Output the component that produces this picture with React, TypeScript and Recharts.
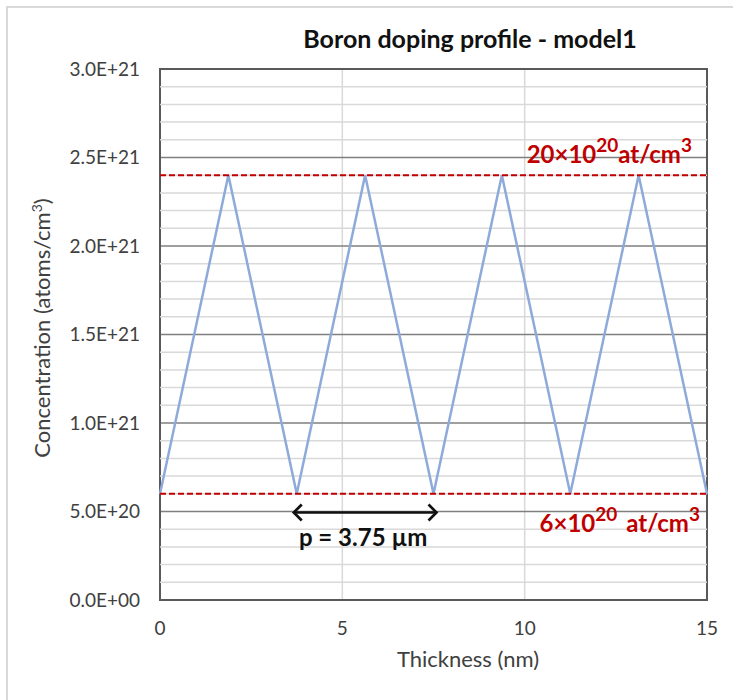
import { CartesianGrid, Line, LineChart, ReferenceArea, ReferenceLine, XAxis, YAxis } from "recharts";

const thickness = [0, 1.875, 3.75, 5.625, 7.5, 9.375, 11.25, 13.125, 15];
const concentration = [6e20, 2.4e21, 6e20, 2.4e21, 6e20, 2.4e21, 6e20, 2.4e21, 6e20];
const xTicks = [0, 5, 10, 15];
const yTicks = [0, 5e20, 1e21, 1.5e21, 2e21, 2.5e21, 3e21];
const minorYTicks = [
  1e20, 2e20, 3e20, 4e20, 6e20, 7e20, 8e20, 9e20, 1.1e21, 1.2e21, 1.3e21, 1.4e21, 1.6e21, 1.7e21, 1.8e21,
  1.9e21, 2.1e21, 2.2e21, 2.3e21, 2.4e21, 2.6e21, 2.7e21, 2.8e21, 2.9e21
];
const upperLimit = 2.4e21;
const lowerLimit = 6e20;
const periodStart = 3.75;
const periodEnd = 7.5;
const periodLevel = 5e20;

const data = thickness.map((x, i) => ({ x, c: concentration[i] }));

const FONT = "Lato, 'Open Sans', sans-serif";
const RED = "#c00000";
const TEXT = "#404040";

function sci(v: number) {
  const [m, e] = v.toExponential(1).split("e");
  const n = Number(e);
  return `${m}E${n < 0 ? "-" : "+"}${String(Math.abs(n)).padStart(2, "0")}`;
}

function LimitLabel({ viewBox, lead, gap, dx, dy }: any) {
  const { x, y, width } = viewBox;
  return (
    <text x={x + width + dx} y={y + dy} textAnchor="end" fill={RED} fontSize={24} fontWeight={700} fontFamily={FONT}>
      <tspan>{lead}</tspan>
      <tspan dy={-11} fontSize={19}>20</tspan>
      <tspan dy={11} dx={gap}>at/cm</tspan>
      <tspan dy={-11} fontSize={19}>3</tspan>
    </text>
  );
}

function PeriodArrow(props: any) {
  const { x1, y1, x2, y2 } = props;
  const h = 8;
  const l = x1 - 3;
  const r = x2 + 3;
  const y = y1 + 1;
  return (
    <g>
      <line x1={l} y1={y} x2={r} y2={y2 + 1} stroke="#111" strokeWidth={2.7} />
      <polyline points={`${l + h},${y - h} ${l},${y} ${l + h},${y + h}`} fill="none" stroke="#111" strokeWidth={2.7} />
      <polyline points={`${r - h},${y - h} ${r},${y} ${r - h},${y + h}`} fill="none" stroke="#111" strokeWidth={2.7} />
      <text x={(x1 + x2) / 2 - 2} y={y1 + 34} textAnchor="middle" fill="#111" fontSize={24} fontWeight={700} fontFamily={FONT}>
        p = 3.75 µm
      </text>
    </g>
  );
}

export default function App() {
  return (
    <div style={{ position: "absolute", left: 0, top: 0, width: 733, height: 700, overflow: "hidden", background: "#fff", fontFamily: FONT }}>
      <div style={{ position: "absolute", left: 6, top: 6, width: 760, height: 720, border: "2px solid #d9d9d9" }} />
      <div style={{ position: "absolute", left: 0, top: 0 }}>
        <LineChart width={733} height={700} data={data} margin={{ top: 69, right: 26, bottom: 60, left: 70 }}>
          <CartesianGrid horizontal={false} stroke="#d9d9d9" strokeWidth={1.5} />
          {minorYTicks.map((v) => (
            <ReferenceLine key={v} y={v} stroke="#d9d9d9" strokeWidth={1.5} />
          ))}
          <CartesianGrid vertical={false} stroke="#7f7f7f" strokeWidth={1.5} />
          <XAxis
            type="number"
            dataKey="x"
            domain={[0, 15]}
            ticks={xTicks}
            height={40}
            axisLine={false}
            tickLine={false}
            tickSize={0}
            tickMargin={22}
            tick={{ fill: TEXT, fontSize: 19, fontFamily: FONT }}
            label={{
              content: () => (
                <text x={468} y={667} textAnchor="middle" fill={TEXT} fontSize={22} fontFamily={FONT}>
                  Thickness (nm)
                </text>
              )
            }}
          />
          <YAxis
            type="number"
            domain={[0, 3e21]}
            ticks={yTicks}
            width={90}
            axisLine={false}
            tickLine={false}
            tickSize={0}
            tickMargin={20}
            tickFormatter={sci}
            tick={{ fill: TEXT, fontSize: 19, fontFamily: FONT }}
            label={{
              content: () => (
                <text x={50} y={328} transform="rotate(-90 50 328)" textAnchor="middle" fill={TEXT} fontSize={22} fontFamily={FONT}>
                  Concentration (atoms/cm
                  <tspan dy={-8} fontSize={14}>3</tspan>
                  <tspan dy={8}>)</tspan>
                </text>
              )
            }}
          />
          <Line type="linear" dataKey="c" stroke="#8eaadb" strokeWidth={2.5} dot={false} isAnimationActive={false} />
          <ReferenceLine
            y={upperLimit}
            stroke={RED}
            strokeWidth={2}
            strokeDasharray="6 3"
            label={{ content: (p: any) => <LimitLabel viewBox={p.viewBox} lead="20×10" gap={0} dx={-15} dy={-12} /> }}
          />
          <ReferenceLine
            y={lowerLimit}
            stroke={RED}
            strokeWidth={2}
            strokeDasharray="6 3"
            label={{ content: (p: any) => <LimitLabel viewBox={p.viewBox} lead="6×10" gap={9} dx={-7} dy={38} /> }}
          />
          <ReferenceLine
            segment={[
              { x: periodStart, y: periodLevel },
              { x: periodEnd, y: periodLevel }
            ]}
            shape={(p: any) => <PeriodArrow {...p} />}
          />
          <ReferenceArea x1={0} x2={15} y1={0} y2={3e21} fill="none" stroke="#595959" strokeWidth={2} />
        </LineChart>
      </div>
      <div
        style={{
          position: "absolute",
          left: 220,
          width: 500,
          top: 23,
          textAlign: "center",
          fontSize: 25,
          fontWeight: 700,
          color: "#111",
          whiteSpace: "nowrap"
        }}
      >
        Boron doping profile - model1
      </div>
    </div>
  );
}
